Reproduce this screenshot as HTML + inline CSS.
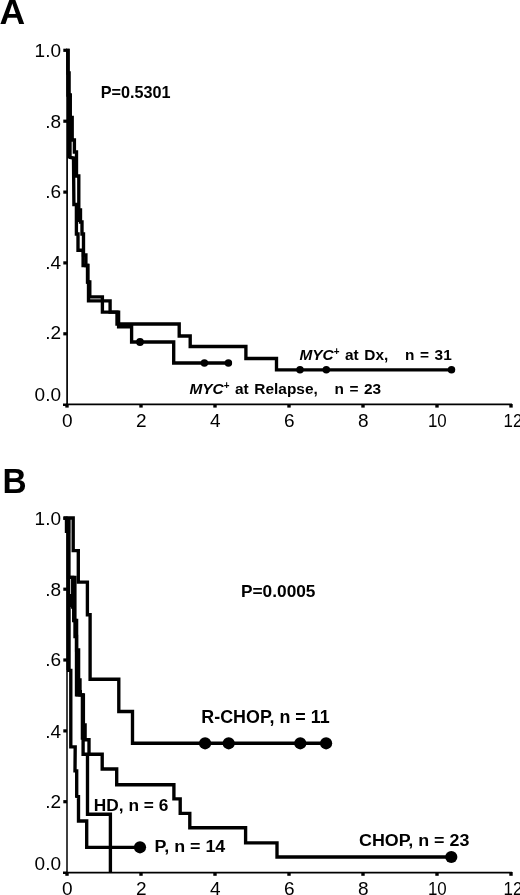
<!DOCTYPE html>
<html><head><meta charset="utf-8"><title>Figure</title>
<style>
html,body{margin:0;padding:0;background:#fff;}
body{width:520px;height:895px;overflow:hidden;}
svg{display:block;font-family:'Liberation Sans', sans-serif;}
text{fill:#000;}
</style></head><body>
<svg width="520" height="895" viewBox="0 0 520 895">
<rect x="0" y="0" width="520" height="895" fill="#fff"/>
<line x1="67.1" y1="49" x2="67.1" y2="405" stroke="#000" stroke-width="1.7"/>
<line x1="66" y1="404.3" x2="512" y2="404.3" stroke="#000" stroke-width="1.8"/>
<rect x="63.3" y="48.7" width="3.7" height="3.2" fill="#000"/>
<text transform="translate(61,57.2) scale(1.0000,1)" font-size="19" font-weight="normal" text-anchor="end">1.0</text>
<rect x="63.3" y="119.6" width="3.7" height="3.2" fill="#000"/>
<text transform="translate(61,128.3) scale(1.0000,1)" font-size="19" font-weight="normal" text-anchor="end">.8</text>
<rect x="63.3" y="190.5" width="3.7" height="3.2" fill="#000"/>
<text transform="translate(61,198.3) scale(1.0000,1)" font-size="19" font-weight="normal" text-anchor="end">.6</text>
<rect x="63.3" y="261.3" width="3.7" height="3.2" fill="#000"/>
<text transform="translate(61,269.2) scale(1.0000,1)" font-size="19" font-weight="normal" text-anchor="end">.4</text>
<rect x="63.3" y="332.2" width="3.7" height="3.2" fill="#000"/>
<text transform="translate(61,339.4) scale(1.0000,1)" font-size="19" font-weight="normal" text-anchor="end">.2</text>
<rect x="63" y="403.5" width="4" height="2.5" fill="#000"/>
<text transform="translate(61,401.3) scale(1.0000,1)" font-size="19" font-weight="normal" text-anchor="end">0.0</text>
<rect x="65.3" y="404" width="3.4" height="3.6" fill="#000"/>
<text transform="translate(67.3,427) scale(1.0000,1)" font-size="19" font-weight="normal" text-anchor="middle">0</text>
<rect x="139.3" y="404" width="3.4" height="3.6" fill="#000"/>
<text transform="translate(141.3,427) scale(1.0000,1)" font-size="19" font-weight="normal" text-anchor="middle">2</text>
<rect x="213.3" y="404" width="3.4" height="3.6" fill="#000"/>
<text transform="translate(215.3,427) scale(1.0000,1)" font-size="19" font-weight="normal" text-anchor="middle">4</text>
<rect x="287.3" y="404" width="3.4" height="3.6" fill="#000"/>
<text transform="translate(289.3,427) scale(1.0000,1)" font-size="19" font-weight="normal" text-anchor="middle">6</text>
<rect x="361.3" y="404" width="3.4" height="3.6" fill="#000"/>
<text transform="translate(363.3,427) scale(1.0000,1)" font-size="19" font-weight="normal" text-anchor="middle">8</text>
<rect x="435.3" y="404" width="3.4" height="3.6" fill="#000"/>
<text transform="translate(437.3,427) scale(0.8900,1)" font-size="19" font-weight="normal" text-anchor="middle">10</text>
<rect x="509.3" y="404" width="3.4" height="3.6" fill="#000"/>
<text transform="translate(513.0,427) scale(0.8900,1)" font-size="19" font-weight="normal" text-anchor="middle">12</text>
<polyline points="66.0,50.5 68.0,50.5 68.0,73.0 69.1,73.0 69.1,95.0 70.3,95.0 70.3,117.5 72.2,117.5 72.2,140.0 74.4,140.0 74.4,152.0 76.5,152.0 76.5,176.0 78.8,176.0 78.8,210.0 80.5,210.0 80.5,222.0 82.0,222.0 82.0,234.0 83.5,234.0 83.5,255.0 85.9,255.0 85.9,265.5 87.9,265.5 87.9,282.0 89.8,282.0 89.8,296.8 102.4,296.8 102.4,312.1 117.0,312.1 117.0,324.0 179.2,324.0 179.2,336.0 190.2,336.0 190.2,346.5 245.9,346.5 245.9,358.5 276.5,358.5 276.5,369.8 451.5,369.8" fill="none" stroke="#000" stroke-width="3.35" stroke-linejoin="miter" stroke-linecap="butt"/>
<polyline points="66.0,50.5 68.0,50.5 68.0,95.0 69.0,95.0 69.0,117.5 70.0,117.5 70.0,157.3 73.5,158.0 73.9,204.5 76.4,204.5 76.4,234.0 78.0,234.0 78.0,250.2 83.1,250.2 83.1,265.5 87.5,265.5 87.5,282.0 88.5,282.0 88.5,300.9 110.1,300.9 110.1,312.1 118.6,312.1 118.6,326.7 131.6,326.7 131.6,342.0 173.7,342.0 173.7,363.0 228.4,363.0" fill="none" stroke="#000" stroke-width="3.35" stroke-linejoin="miter" stroke-linecap="butt"/>
<rect x="67" y="50" width="2" height="108" fill="#000"/>
<rect x="77.5" y="205" width="2.0" height="17" fill="#000"/>
<circle cx="300" cy="369.8" r="3.75" fill="#000"/>
<circle cx="326.3" cy="369.8" r="3.75" fill="#000"/>
<circle cx="451.5" cy="369.8" r="3.75" fill="#000"/>
<circle cx="140" cy="342" r="3.9" fill="#000"/>
<circle cx="204.4" cy="363" r="3.75" fill="#000"/>
<circle cx="228.4" cy="363" r="3.75" fill="#000"/>
<text transform="translate(-0.4,24.2) scale(1.0000,1)" font-size="35.5" font-weight="bold" text-anchor="start">A</text>
<text transform="translate(100.8,98.3) scale(1.0130,1)" font-size="16" font-weight="bold" text-anchor="start">P=0.5301</text>
<text transform="translate(299.4,360.2) scale(0.9950,1)" font-size="15.5" font-weight="bold" text-anchor="start" xml:space="preserve" word-spacing="1.3"><tspan font-style="italic">MYC</tspan><tspan font-size="10" dy="-5">+</tspan><tspan dy="5"> </tspan>at Dx,&#160;&#160; n = 31</text>
<text transform="translate(189.4,393.5) scale(0.9950,1)" font-size="15.5" font-weight="bold" text-anchor="start" xml:space="preserve" word-spacing="1.3"><tspan font-style="italic">MYC</tspan><tspan font-size="10" dy="-5">+</tspan><tspan dy="5"> </tspan>at Relapse,&#160;&#160; n = 23</text>
<line x1="67" y1="516.5" x2="67" y2="873" stroke="#000" stroke-width="1.5"/>
<line x1="66" y1="872.6" x2="512" y2="872.6" stroke="#000" stroke-width="1.7"/>
<rect x="63.3" y="516.7" width="3.7" height="3.2" fill="#000"/>
<text transform="translate(61,525.0) scale(1.0000,1)" font-size="19" font-weight="normal" text-anchor="end">1.0</text>
<rect x="63.3" y="587.6" width="3.7" height="3.2" fill="#000"/>
<text transform="translate(61,596.0) scale(1.0000,1)" font-size="19" font-weight="normal" text-anchor="end">.8</text>
<rect x="63.3" y="658.4" width="3.7" height="3.2" fill="#000"/>
<text transform="translate(61,665.8) scale(1.0000,1)" font-size="19" font-weight="normal" text-anchor="end">.6</text>
<rect x="63.3" y="729.3" width="3.7" height="3.2" fill="#000"/>
<text transform="translate(61,737.7) scale(1.0000,1)" font-size="19" font-weight="normal" text-anchor="end">.4</text>
<rect x="63.3" y="800.1" width="3.7" height="3.2" fill="#000"/>
<text transform="translate(61,807.8) scale(1.0000,1)" font-size="19" font-weight="normal" text-anchor="end">.2</text>
<rect x="63" y="871.5" width="4" height="2.5" fill="#000"/>
<text transform="translate(61,869.7) scale(1.0000,1)" font-size="19" font-weight="normal" text-anchor="end">0.0</text>
<rect x="65.3" y="872" width="3.4" height="3.8" fill="#000"/>
<text transform="translate(67.3,894.9) scale(1.0000,1)" font-size="19" font-weight="normal" text-anchor="middle">0</text>
<rect x="139.3" y="872" width="3.4" height="3.8" fill="#000"/>
<text transform="translate(141.3,894.9) scale(1.0000,1)" font-size="19" font-weight="normal" text-anchor="middle">2</text>
<rect x="213.3" y="872" width="3.4" height="3.8" fill="#000"/>
<text transform="translate(215.3,894.9) scale(1.0000,1)" font-size="19" font-weight="normal" text-anchor="middle">4</text>
<rect x="287.3" y="872" width="3.4" height="3.8" fill="#000"/>
<text transform="translate(289.3,894.9) scale(1.0000,1)" font-size="19" font-weight="normal" text-anchor="middle">6</text>
<rect x="361.3" y="872" width="3.4" height="3.8" fill="#000"/>
<text transform="translate(363.3,894.9) scale(1.0000,1)" font-size="19" font-weight="normal" text-anchor="middle">8</text>
<rect x="435.3" y="872" width="3.4" height="3.8" fill="#000"/>
<text transform="translate(437.3,894.9) scale(0.8900,1)" font-size="19" font-weight="normal" text-anchor="middle">10</text>
<rect x="509.3" y="872" width="3.4" height="3.8" fill="#000"/>
<text transform="translate(513.0,894.9) scale(0.8900,1)" font-size="19" font-weight="normal" text-anchor="middle">12</text>
<polyline points="63.5,518.0 73.2,518.0 73.2,550.6 78.3,550.6 78.3,582.1 87.4,582.1 87.4,614.7 90.1,614.7 90.1,679.2 118.8,679.2 118.8,711.5 132.5,711.5 132.5,743.2 326.3,743.2" fill="none" stroke="#000" stroke-width="3.35" stroke-linejoin="miter" stroke-linecap="butt"/>
<polyline points="68.6,518.0 68.6,577.3 74.9,577.3 74.9,620.5 76.6,620.5 76.6,650.0 78.6,650.0 78.6,680.0 80.0,680.0 80.0,694.8 83.4,694.8 83.4,724.8 85.1,724.8 85.1,739.7 89.0,739.7 89.0,754.2 102.2,754.2 102.2,769.0 116.7,769.0 116.7,784.7 173.9,784.7 173.9,798.8 180.2,798.8 180.2,813.3 189.8,813.3 189.8,827.7 245.6,827.7 245.6,842.8 277.0,842.8 277.0,857.0 451.5,857.0" fill="none" stroke="#000" stroke-width="3.35" stroke-linejoin="miter" stroke-linecap="butt"/>
<polyline points="68.6,518.0 68.6,577.3 72.7,577.3 72.7,607.0 73.7,607.0 73.7,620.5 75.0,620.5 75.0,636.5 76.5,636.5 76.5,694.8 82.4,694.8 82.4,738.0 83.1,738.0 83.1,754.2 87.5,754.2 87.5,814.2 110.4,814.2 110.4,872.0" fill="none" stroke="#000" stroke-width="3.35" stroke-linejoin="miter" stroke-linecap="butt"/>
<polyline points="68.6,518.0 68.6,670.4 70.8,670.4 70.8,746.8 75.2,746.8 75.0,770.8 76.7,770.8 76.7,796.3 78.5,796.5 78.5,821.0 86.7,821.0 86.7,847.3 141.0,847.3" fill="none" stroke="#000" stroke-width="3.35" stroke-linejoin="miter" stroke-linecap="butt"/>
<rect x="64.8" y="517" width="5.299999999999997" height="16" fill="#000"/>
<rect x="66.5" y="517" width="2.5" height="153" fill="#000"/>
<rect x="69.5" y="594" width="3.0" height="13" fill="#000"/>
<rect x="69" y="607" width="1.5999999999999943" height="63.39999999999998" fill="#000"/>
<rect x="77.5" y="680" width="1.5" height="16" fill="#000"/>
<rect x="76" y="690" width="6" height="6.399999999999977" fill="#000"/>
<circle cx="205.1" cy="743.3" r="6.1" fill="#000"/>
<circle cx="228.7" cy="743.3" r="6.1" fill="#000"/>
<circle cx="300.3" cy="743.3" r="6.1" fill="#000"/>
<circle cx="326.1" cy="743.3" r="6.1" fill="#000"/>
<circle cx="140" cy="847.3" r="6.1" fill="#000"/>
<circle cx="451.3" cy="857" r="6.1" fill="#000"/>
<text transform="translate(2.5,493.4) scale(0.9400,1)" font-size="35.5" font-weight="bold" text-anchor="start">B</text>
<text x="241" y="597.2" font-size="17.3" font-weight="bold" text-anchor="start">P=0.0005</text>
<text transform="translate(201.3,723.3) scale(1.0220,1)" font-size="17.5" font-weight="bold" text-anchor="start">R-CHOP, n = 11</text>
<text transform="translate(359,846.4) scale(1.0280,1)" font-size="17.4" font-weight="bold" text-anchor="start">CHOP, n = 23</text>
<text transform="translate(154.6,851.8) scale(1.0280,1)" font-size="17.4" font-weight="bold" text-anchor="start">P, n = 14</text>
<text transform="translate(93.8,810.8) scale(0.9950,1)" font-size="17.4" font-weight="bold" text-anchor="start">HD, n = 6</text>
</svg>
</body></html>
